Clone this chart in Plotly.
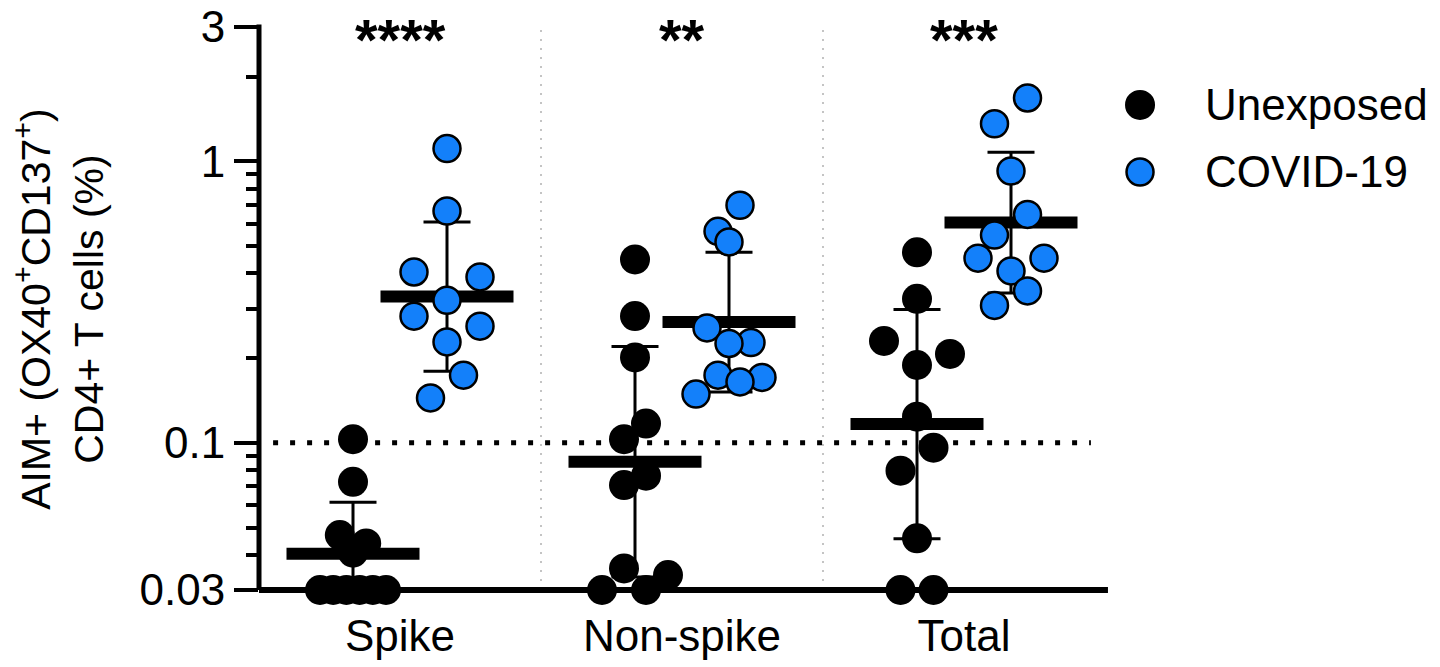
import numpy as np
import plotly.graph_objects as go

# ---- data: AIM+ (OX40+CD137+) CD4+ T cells, % ----
categories = ["Spike", "Non-spike", "Total"]
cohorts = ["Unexposed", "COVID-19"]

spike_unexposed = [0.103, 0.0727, 0.047, 0.0439, 0.0407, 0.03, 0.03, 0.03, 0.03, 0.03, 0.03]
spike_covid = [1.11, 0.666, 0.4045, 0.3884, 0.321, 0.2817, 0.2596, 0.2283, 0.1739, 0.1444]
nonspike_unexposed = [0.448, 0.282, 0.201, 0.117, 0.103, 0.0764, 0.0708, 0.0358, 0.0339, 0.03, 0.03]
nonspike_covid = [0.698, 0.564, 0.517, 0.256, 0.2272, 0.2254, 0.1739, 0.1707, 0.1646, 0.149]
total_unexposed = [0.475, 0.3247, 0.2302, 0.2068, 0.189, 0.1238, 0.0961, 0.0796, 0.0458, 0.03, 0.03]
total_covid = [1.679, 1.36, 0.924, 0.6478, 0.547, 0.4529, 0.4529, 0.4079, 0.3464, 0.3077]

significance = ["****", "**", "***"]
detection_limit = 0.1
y_min, y_max = 0.03, 3
y_major_ticks = [0.03, 0.1, 1, 3]

# ---- styling / geometry ----
FONT = "Arial, 'Liberation Sans', Helvetica, sans-serif"
W, H = 1440, 667
ML, MR, MT, MB = 259, 335, 27, 77
x_range = [-0.5, 2.5]
plot_w = W - ML - MR
plot_h = H - MT - MB
px_per_unit = plot_w / (x_range[1] - x_range[0])
px_per_decade = plot_h / (np.log10(y_max) - np.log10(y_min))

COHORT_SHIFT = 1 / 6          # horizontal offset of each cohort from the category centre
DOT = 30                      # marker diameter, px
ROW_PX = 30                   # values closer than this (px) share a row in the swarm
STEP_PX = 33                  # horizontal spacing between points of one row
MAX_SPREAD_PX = 66            # widest allowed row
BLUE = "#1380FA"

# order in which the slots of a row are filled (by descending value)
SLOT_ORDER = {2: [1, 0], 3: [0, 2, 1], 4: [1, 3, 2, 0]}


def swarm_offsets(values):
    """Column-scatter layout: bin points into rows by screen height and spread each row."""
    v = np.asarray(values, dtype=float)
    ypx = np.log10(v) * px_per_decade
    order = np.argsort(-v, kind="stable")
    rows, i = [], 0
    while i < len(order):
        start = ypx[order[i]]
        row = [order[i]]
        j = i + 1
        while j < len(order) and start - ypx[order[j]] < ROW_PX:
            row.append(order[j])
            j += 1
        rows.append(row)
        i = j
    kmax = max(len(r) for r in rows)
    spacing = STEP_PX if kmax < 2 else min(STEP_PX, MAX_SPREAD_PX / (kmax - 1))
    dx = np.zeros(len(v))
    for row in rows:
        k = len(row)
        slots = [(s - (k - 1) / 2) * spacing for s in range(k)]
        seq = SLOT_ORDER.get(k, list(range(k)))
        for idx, s in zip(row, seq):
            dx[idx] = slots[s]
    return dx / px_per_unit


series = [
    (0, 0, spike_unexposed), (0, 1, spike_covid),
    (1, 0, nonspike_unexposed), (1, 1, nonspike_covid),
    (2, 0, total_unexposed), (2, 1, total_covid),
]

summary_traces, point_traces = [], []
for cat, coh, vals in series:
    centre = cat + (COHORT_SHIFT if coh == 1 else -COHORT_SHIFT)
    logs = np.log10(vals)
    gm = 10 ** logs.mean()
    sd = logs.std(ddof=1)
    hi, lo = 10 ** (logs.mean() + sd), 10 ** (logs.mean() - sd)

    # geometric mean bar with geometric SD whiskers
    summary_traces.append(go.Scatter(
        x=[centre], y=[gm], mode="markers",
        marker=dict(symbol="line-ew", size=95, color="black",
                    line=dict(width=12, color="black")),
        error_y=dict(type="data", symmetric=False, array=[hi - gm],
                     arrayminus=[gm - lo], color="black", thickness=3, width=23.5),
        cliponaxis=False, hoverinfo="skip", showlegend=False,
    ))

    if coh == 0:
        marker = dict(size=DOT, color="black", line=dict(width=0))
    else:
        marker = dict(size=DOT - 3, color=BLUE, line=dict(width=2.5, color="black"))
    point_traces.append(go.Scatter(
        x=centre + swarm_offsets(vals), y=vals, mode="markers",
        marker=marker, name=cohorts[coh], cliponaxis=False, showlegend=False,
    ))

fig = go.Figure(summary_traces + point_traces)

# minor ticks: every integer multiple within each decade
minor_ticks = []
for d in (0.01, 0.1, 1):
    for m in range(2, 10):
        v = round(m * d, 6)
        if y_min < v < y_max and v not in y_major_ticks:
            minor_ticks.append(v)

shapes = []
# light dotted separators between categories
for k in range(len(categories) - 1):
    shapes.append(dict(type="line", xref="x", yref="paper", x0=k + 0.5, x1=k + 0.5,
                       y0=0, y1=1, layer="below",
                       line=dict(color="#c4c4c4", width=2, dash="2px,7px")))
# detection-limit line
shapes.append(dict(type="line", xref="x", yref="y", x0=-0.45, x1=2.45,
                   y0=detection_limit, y1=detection_limit, layer="below",
                   line=dict(color="black", width=5, dash="5px,12px")))
# axis lines
shapes.append(dict(type="line", xref="paper", yref="paper", x0=0, x1=0, y0=0, y1=1.0045,
                   layer="below", line=dict(color="black", width=5)))
shapes.append(dict(type="line", xref="paper", yref="paper", x0=0, x1=1.0035, y0=0, y1=0,
                   layer="below", line=dict(color="black", width=6)))

annotations = []
for i, s in enumerate(significance):
    annotations.append(dict(x=i, xref="x", y=0.977, yref="paper", text=s, showarrow=False,
                            xanchor="center", yanchor="middle",
                            font=dict(family=FONT, size=58, color="black", weight="bold")))

annotations.append(dict(
    x=-0.236, xref="paper", y=0.5, yref="paper", textangle=-90, showarrow=False,
    text="AIM+ (OX40<sup>+</sup>CD137<sup>+</sup>)<br>CD4+ T cells (%)",
    xanchor="center", yanchor="middle", align="center",
    font=dict(family=FONT, size=41, color="black")))

# legend drawn by hand so the symbols keep the full marker size
legend_y = [0.8615, 0.7425]
legend_x_sym, legend_x_text = 1.0414, 1.1160
legend_fill = ["black", BLUE]
legend_line = [dict(color="black", width=0), dict(color="black", width=2.5)]
for name, yy, fill, ln in zip(cohorts, legend_y, legend_fill, legend_line):
    r = DOT / 2 if fill == "black" else (DOT - 3) / 2
    shapes.append(dict(type="circle", xref="paper", yref="paper",
                       xsizemode="pixel", ysizemode="pixel",
                       xanchor=legend_x_sym, yanchor=yy, x0=-r, x1=r, y0=-r, y1=r,
                       fillcolor=fill, line=ln))
    annotations.append(dict(x=legend_x_text, xref="paper", y=yy, yref="paper", text=name,
                            showarrow=False, xanchor="left", yanchor="middle",
                            font=dict(family=FONT, size=44, color="black")))

fig.update_layout(
    width=W, height=H,
    margin=dict(l=ML, r=MR, t=MT, b=MB, autoexpand=False),
    paper_bgcolor="white", plot_bgcolor="white",
    font=dict(family=FONT, color="black"),
    showlegend=False,
    shapes=shapes, annotations=annotations,
    xaxis=dict(range=x_range, tickmode="array", tickvals=list(range(len(categories))),
               ticktext=categories, ticks="", showline=False, showgrid=False,
               zeroline=False, ticklabelstandoff=16,
               tickfont=dict(family=FONT, size=44, color="black")),
    yaxis=dict(type="log", range=[np.log10(y_min), np.log10(y_max)],
               tickmode="array", tickvals=y_major_ticks,
               ticktext=[f"{v:g}" for v in y_major_ticks],
               ticks="outside", ticklen=24, tickwidth=4, tickcolor="black",
               showline=False, showgrid=False, zeroline=False,
               tickfont=dict(family=FONT, size=44, color="black"),
               minor=dict(tickmode="array", tickvals=minor_ticks, ticks="outside",
                          ticklen=12, tickwidth=4, tickcolor="black", showgrid=False)),
)

fig.write_html("out.html")
